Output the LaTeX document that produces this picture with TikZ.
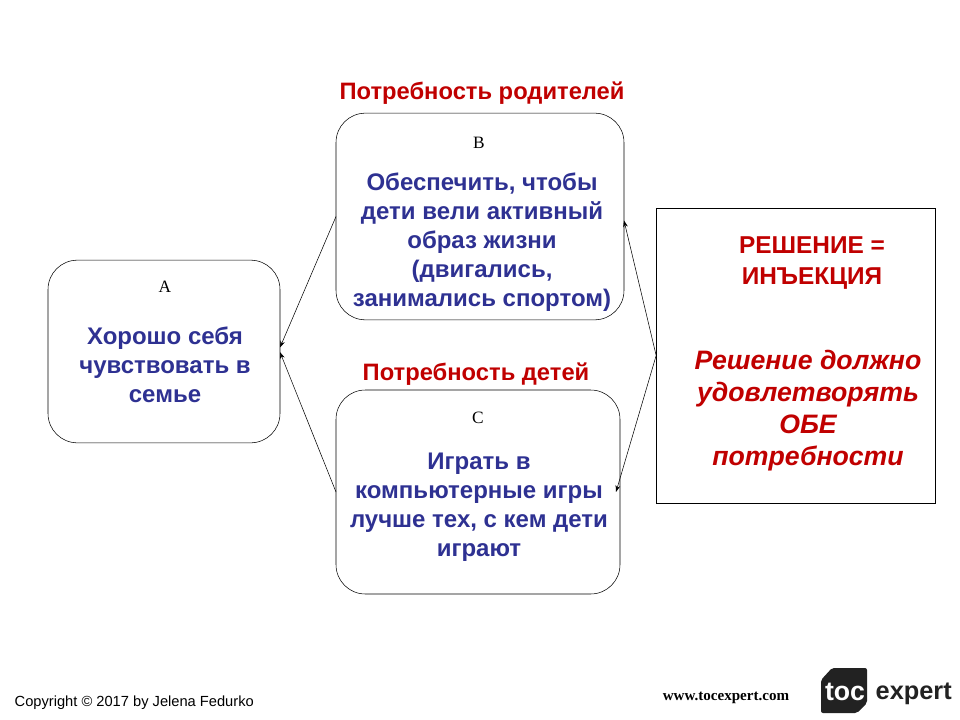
\documentclass[tikz,border=0pt]{standalone}
\usepackage{fontspec}
\setmainfont{Liberation Sans}
\newfontfamily\timesfont{Liberation Serif}
\usepackage{tikz}
\usetikzlibrary{arrows.meta}
\definecolor{needred}{RGB}{192,0,0}
\definecolor{needblue}{RGB}{46,49,146}
\definecolor{logogray}{RGB}{34,34,34}

\begin{document}
\begin{tikzpicture}[x=0.75pt, y=-0.75pt, thin,
  needbox/.style={draw, rounded corners=22pt, inner sep=0pt},
  needtext/.style={text=needblue, font=\fontsize{18}{21.75}\selectfont\bfseries, align=center},
  needtitle/.style={text=needred, font=\fontsize{17.8}{20}\selectfont\bfseries},
  boxletter/.style={font=\timesfont\fontsize{13}{15}\selectfont}]

\useasboundingbox (0,0) rectangle (960,720);

\path [every node/.style={inner sep=0pt, outer sep=0pt}]
  node[needbox, minimum width=174pt, minimum height=137pt] (A) at (164,351.5) {}
  node[needbox, minimum width=216pt, minimum height=155pt] (B) at (480,216.5) {}
  node[needbox, minimum width=213pt, minimum height=153pt] (C) at (478,492) {}
  node[draw, minimum width=209pt, minimum height=221pt] (solution) at (795.5,355.5) {}
  node[needtitle] (titleB) at (482,93) {Потребность родителей}
  node[needtitle] (titleC) at (476,374) {Потребность детей}
  node[boxletter] (letterA) at (165,287) {A}
  node[boxletter] (letterB) at (479,143) {B}
  node[boxletter] (letterC) at (478,418) {C}
  node[needtext] (textA) at (165,365) {Хорошо себя\\чувствовать в\\семье}
  node[needtext] (textB) at (482,242) {Обеспечить, чтобы\\дети вели активный\\образ жизни\\(двигались,\\занимались спортом)}
  node[needtext] (textC) at (479,507) {Играть в\\компьютерные игры\\лучше тех, с кем дети\\играют}
  node[text=needred, font=\fontsize{18.3}{23.25}\selectfont\bfseries, align=center] (inject) at (812,263) {РЕШЕНИЕ =\\ИНЪЕКЦИЯ}
  node[text=needred, font=\fontsize{20}{24}\selectfont\bfseries\itshape, align=center] (both) at (808,411) {Решение должно\\удовлетворять\\ОБЕ\\потребности};

% footer
\node[font=\fontsize{11}{13}\selectfont, anchor=west] (copyright) at (10,703) {Copyright © 2017 by Jelena Fedurko};
\node[font=\timesfont\fontsize{11.3}{13}\selectfont\bfseries] (site) at (726,698) {www.tocexpert.com};
\fill[logogray, rounded corners=1.5pt] (821,680) -- (832,668) -- (867,668) -- (867,703) -- (857,713) -- (821,713) -- cycle;
\node[text=white, font=\fontsize{20}{22}\selectfont\bfseries] (toc) at (845,692) {toc};
\node[text=logogray, font=\fontsize{19}{22}\selectfont\bfseries, anchor=west] (expert) at (871,694) {expert};

\begin{scope}[-{Stealth[length=5pt,width=3.5pt]}]
	% to A
	\draw (B.west) -- ([yshift=3pt]A.east);
	\draw (C.west) -- ([yshift=-0.5pt]A.east);
	% from the solution
	\draw (solution.west) -- ([yshift=-3pt]B.east);
	\draw (solution.west) -- ([xshift=-3pt]C.east);
\end{scope}

\end{tikzpicture}
\end{document}
